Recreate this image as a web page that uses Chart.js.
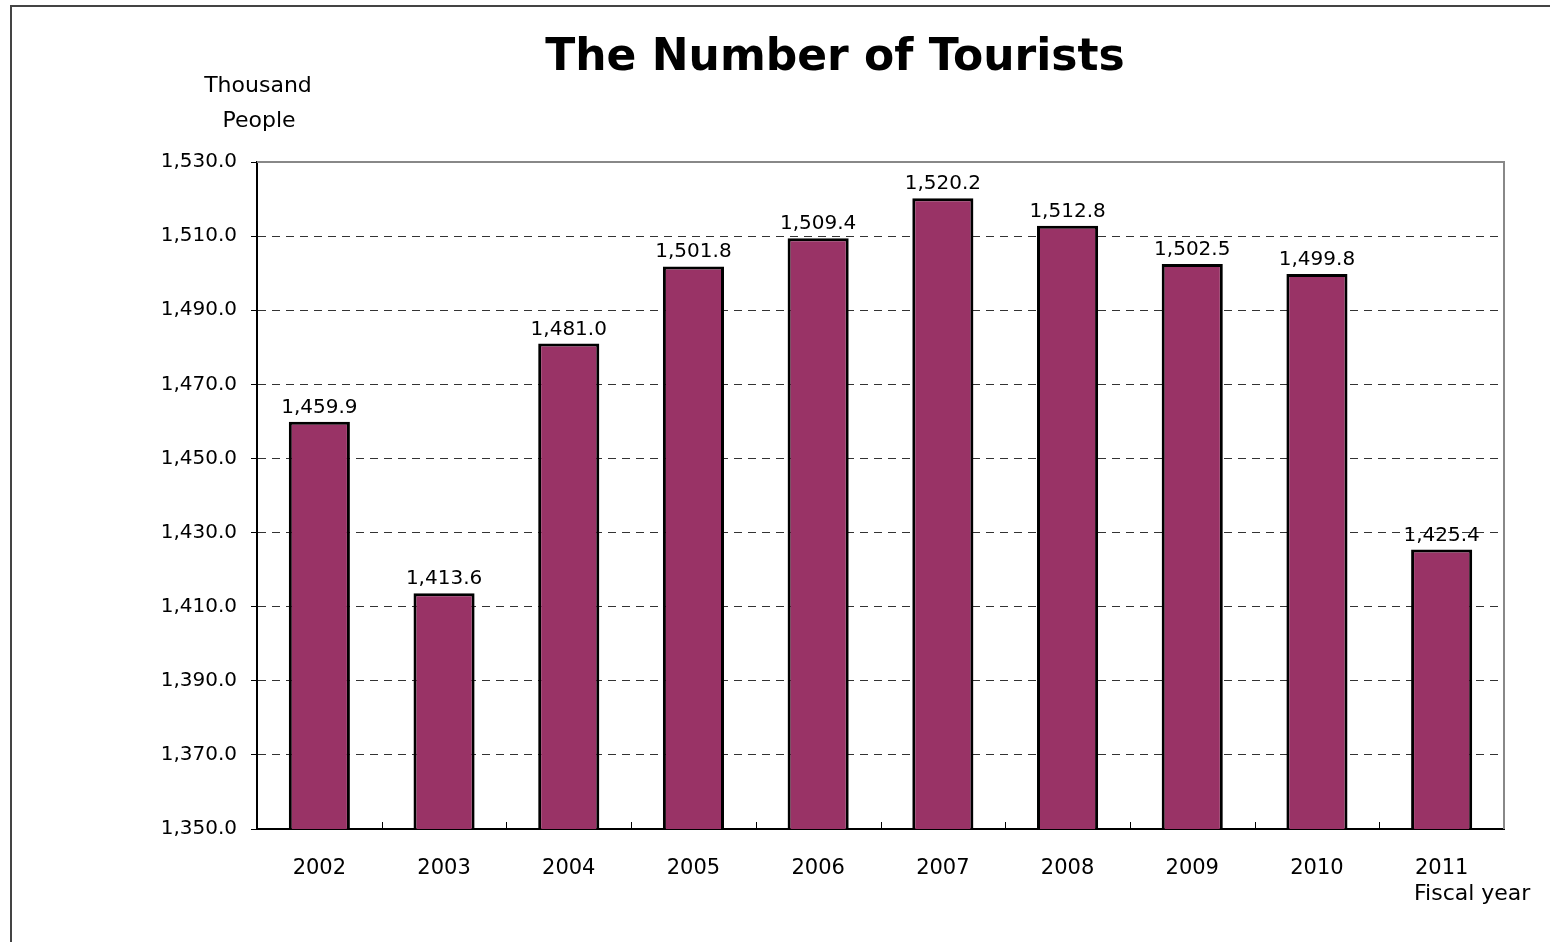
<!DOCTYPE html>
<html>
<head>
<meta charset="utf-8">
<script src="https://cdn.jsdelivr.net/npm/chart.js@4.4.0/dist/chart.umd.min.js"></script>
<style>
  html, body { margin: 0; padding: 0; background: #fff; }
  #frame { position: absolute; left: 10px; top: 5px; width: 1560px; height: 960px; border: 2px solid #444; box-sizing: border-box; }
  #wrap { position: absolute; left: 0; top: 0; width: 1550px; height: 942px; }
</style>
</head>
<body>
<div id="frame"></div>
<div id="wrap"><canvas id="tourists"></canvas></div>
<script>
const years = ['2002', '2003', '2004', '2005', '2006', '2007', '2008', '2009', '2010', '2011'];
const tourists = [1459.9, 1413.6, 1481.0, 1501.8, 1509.4, 1520.2, 1512.8, 1502.5, 1499.8, 1425.4];
const yMin = 1350;
const yMax = 1530;
const yStep = 20;

const FONT = '"DejaVu Sans", "Noto Sans", sans-serif';

const fmt = (v) => v.toLocaleString('en-US', { minimumFractionDigits: 1, maximumFractionDigits: 1 });

// texts, value labels, frame and small x ticks
const extras = {
  id: 'extras',
  afterDatasetsDraw(chart) {
    const { ctx, chartArea: a, scales } = chart;
    ctx.save();

    // gray top/right border of plot
    ctx.strokeStyle = '#888';
    ctx.lineWidth = 2;
    ctx.beginPath();
    ctx.moveTo(a.left, a.top);
    ctx.lineTo(a.right, a.top);
    ctx.lineTo(a.right, a.bottom);
    ctx.stroke();

    // small tick marks between categories on x axis
    ctx.strokeStyle = '#000';
    ctx.lineWidth = 1;
    const xs = scales.x;
    for (let i = 1; i < years.length; i++) {
      const px = Math.round((xs.getPixelForValue(i - 1) + xs.getPixelForValue(i)) / 2) + 0.5;
      ctx.beginPath();
      ctx.moveTo(px, a.bottom);
      ctx.lineTo(px, a.bottom - 7);
      ctx.stroke();
    }

    // value labels
    ctx.fillStyle = '#000';
    ctx.font = '20px ' + FONT;
    ctx.textAlign = 'center';
    ctx.textBaseline = 'alphabetic';
    chart.getDatasetMeta(0).data.forEach((bar, i) => {
      ctx.fillText(fmt(tourists[i]), bar.x, bar.y - 9);
    });

    // title
    ctx.font = 'bold 44px ' + FONT;
    ctx.textBaseline = 'middle';
    ctx.fillText('The Number of Tourists', 835, 59);

    // axis unit texts
    ctx.font = '22px ' + FONT;
    ctx.fillText('Thousand', 258, 86);
    ctx.fillText('People', 259, 121);
    ctx.textAlign = 'left';
    ctx.fillText('Fiscal year', 1414, 894);

    ctx.restore();
  }
};

new Chart(document.getElementById('tourists'), {
  type: 'bar',
  data: {
    labels: years,
    datasets: [{
      data: tourists,
      backgroundColor: '#993366',
      borderColor: '#000',
      borderWidth: 3,
      barPercentage: 0.49,
      categoryPercentage: 1
    }]
  },
  options: {
    responsive: true,
    maintainAspectRatio: false,
    animation: false,
    layout: { padding: { left: 0, top: 162, right: 46, bottom: 0 } },
    plugins: {
      legend: { display: false },
      tooltip: { enabled: false }
    },
    scales: {
      x: {
        grid: { display: false },
        border: { display: true, color: '#000', width: 2 },
        ticks: { color: '#000', font: { family: FONT, size: 21 }, padding: 19, maxRotation: 0 },
        afterFit(scale) { scale.height = 113; }
      },
      y: {
        min: yMin,
        max: yMax,
        ticks: {
          stepSize: yStep,
          color: '#000',
          font: { family: FONT, size: 20 },
          padding: 14,
          callback: (v) => fmt(v)
        },
        grid: {
          color: (c) => (c.tick && (c.tick.value === yMin || c.tick.value === yMax)) ? 'rgba(0,0,0,0)' : '#333',
          lineWidth: 1,
          tickColor: '#000',
          tickLength: 6,
          tickBorderDash: []
        },
        border: { display: true, color: '#000', width: 2, dash: [8, 6] },
        afterFit(scale) { scale.width = 257; }
      }
    }
  },
  plugins: [extras]
});
</script>
</body>
</html>
